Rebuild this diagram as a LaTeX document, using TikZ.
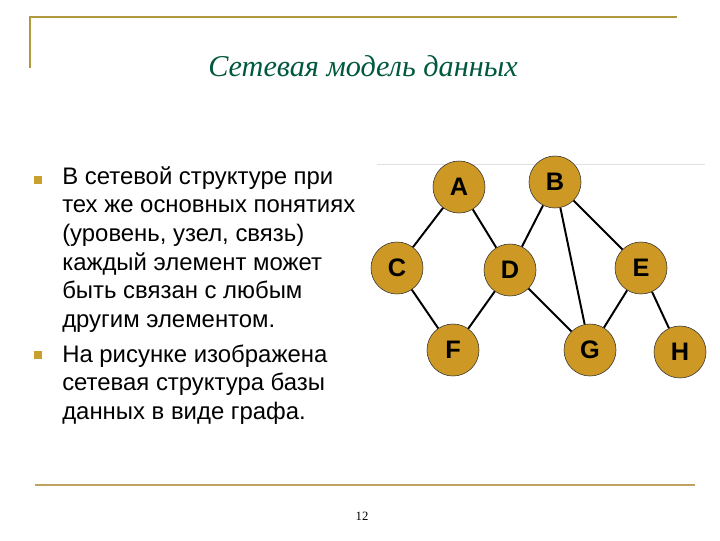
\documentclass[tikz,border=0pt]{standalone}
\usepackage{fontspec}
\setmainfont{Liberation Sans}
\newfontfamily\titlefont{Liberation Serif}
\usepackage{xcolor}
\usetikzlibrary{positioning}
\definecolor{rulegold}{RGB}{178,152,62}
\definecolor{footgold}{RGB}{192,162,98}
\definecolor{nodegold}{RGB}{205,152,35}
\definecolor{titlegreen}{RGB}{0,88,62}
\definecolor{bulletgold}{RGB}{200,160,45}
\tikzset{
  vertex/.style={circle, draw=black!80, fill=nodegold, minimum size=1.3cm, inner sep=0pt,
    font=\fontsize{18}{18}\selectfont\bfseries},
  textline/.style={anchor=base west, inner sep=0pt, font=\fontsize{17}{20}\selectfont},
  bulletsq/.style={fill=bulletgold, minimum size=5.5pt, inner sep=0pt},
  edge/.style={line width=1.4pt}
}
\begin{document}
\begin{tikzpicture}[x=0.025cm, y=-0.025cm]
        \useasboundingbox (0,0) rectangle (720,540);
        % frame of the slide
        \coordinate (tl) at (30,17);
        \coordinate (tr) at (677,17);
        \coordinate (tb) at (30,68);
        \coordinate (bl) at (35,485);
        \coordinate (br) at (695,485);
        \draw[rulegold, line width=1.5pt] (tb)--(tl)--(tr);
        \draw[footgold, line width=2pt] (bl)--(br);
        \node[titlegreen, font=\titlefont\itshape\fontsize{21.5}{21.5}\selectfont] (title) at (363,66) {Сетевая модель данных};
        \node[font=\titlefont\fontsize{9}{9}\selectfont] (page) at (362,516) {12};
        % the text on the left
        \node[bulletsq] (b1) at (38,180) {};
        \node[bulletsq] (b2) at (38,355) {};
        \node[textline] (t1) at (62,184) {В сетевой структуре при};
        \node[textline] (t2) at (62,212) {тех же основных понятиях};
        \node[textline] (t3) at (62,241) {(уровень, узел, связь)};
        \node[textline] (t4) at (62,270) {каждый элемент может};
        \node[textline] (t5) at (62,298) {быть связан с любым};
        \node[textline] (t6) at (62,327) {другим элементом.};
        \node[textline] (t7) at (62,362) {На рисунке изображена};
        \node[textline] (t8) at (62,390) {сетевая структура базы};
        \node[textline] (t9) at (62,419) {данных в виде графа.};
        % the graph
        \coordinate (gl) at (377,164);
        \coordinate (gr) at (705,164);
        \draw[black!12] (gl)--(gr);
        \node[vertex] (A) at (459,187) {A};
        \node[vertex] (B) at (555,182) {B};
        \node[vertex] (C) at (397,268) {C};
        \node[vertex] (D) at (510,270) {D};
        \node[vertex] (E) at (641,268) {E};
        \node[vertex] (F) at (453,350) {F};
        \node[vertex] (G) at (590,350) {G};
        \node[vertex] (H) at (680,352) {H};
        % Now the edges between the nodes
        \draw[edge] (C)--(A)--(D)--(F)--(C);
        \draw[edge] (D)--(B)--(G)--(E)--(B); \draw[edge] (D)--(G);
        \draw[edge] (E)--(H);
\end{tikzpicture}
\end{document}
